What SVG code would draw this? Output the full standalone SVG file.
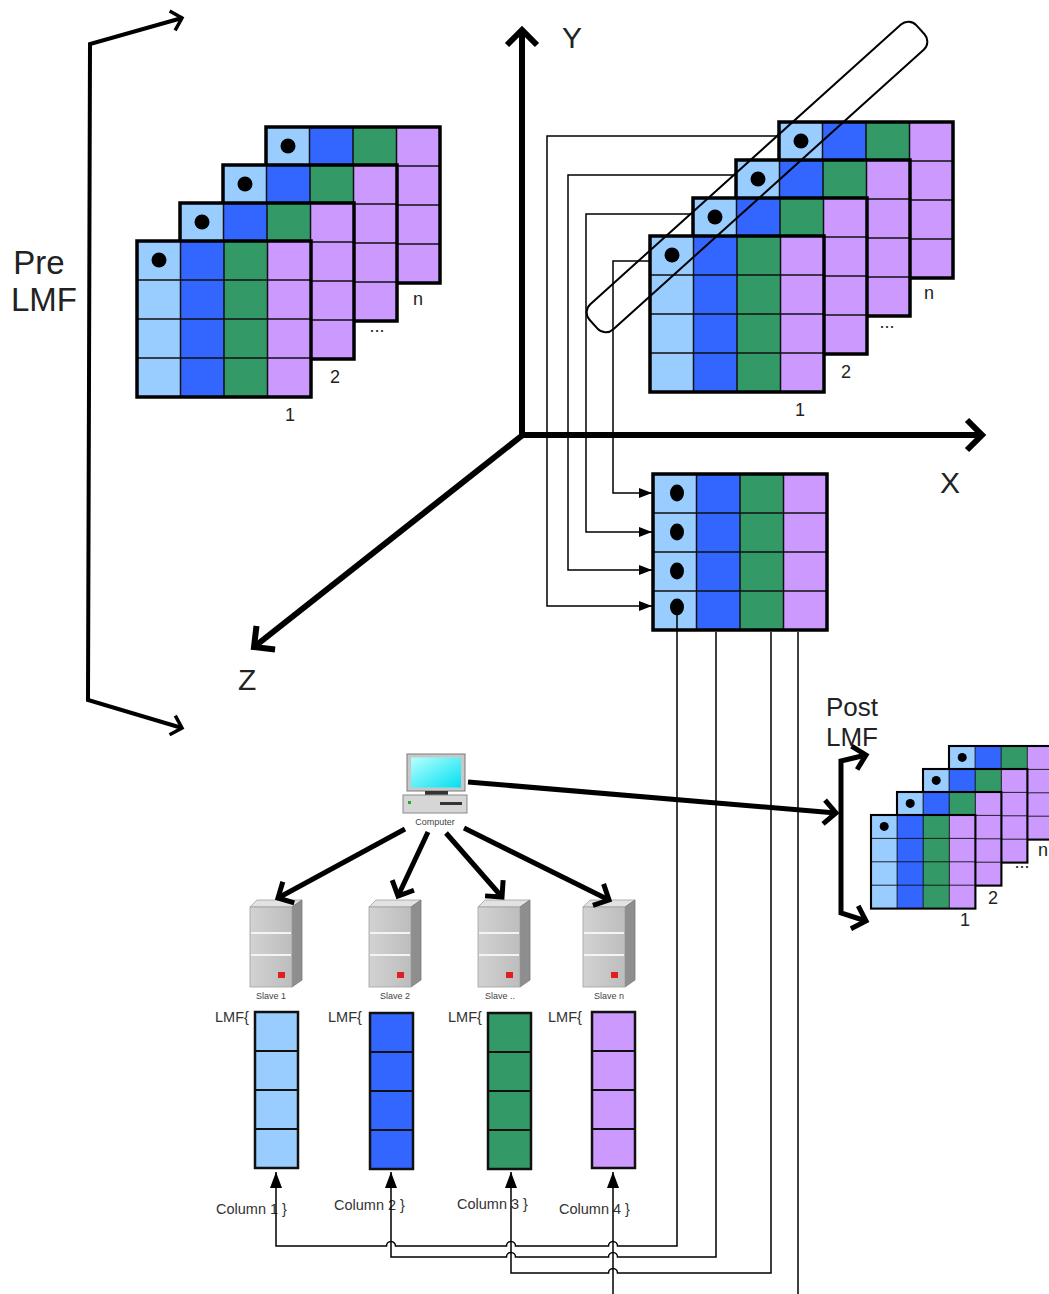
<svg xmlns="http://www.w3.org/2000/svg" xmlns:xlink="http://www.w3.org/1999/xlink" width="1049" height="1294" viewBox="0 0 1049 1294">
<style>
  text { font-family: "Liberation Sans", Arial, sans-serif; fill: #222; }
  .big { font-size: 33px; }
  .axis { font-size: 30px; }
  .post { font-size: 26px; }
  .num { font-size: 18px; text-anchor: middle; }
  .tiny { font-size: 9px; text-anchor: middle; fill: #444; }
  .lbl { font-size: 14.5px; fill: #333; }
  .thin { fill: none; stroke: #000; stroke-width: 1.5; }
  .thick6 { fill: none; stroke: #000; stroke-width: 6; }
  .thick5 { fill: none; stroke: #000; stroke-width: 5; }
  .thick4 { fill: none; stroke: #000; stroke-width: 4; }
  .c1 { fill: #99ccff; } .c2 { fill: #3366ff; } .c3 { fill: #339966; } .c4 { fill: #cc99ff; }
  .colbox { stroke: #111; stroke-width: 2.5; }
</style>
<defs>
  <marker id="chevA" markerUnits="userSpaceOnUse" viewBox="-22 -22 30 44" markerWidth="30" markerHeight="44" refX="0" refY="0" orient="auto">
    <path d="M-15,-15 L0,0 L-15,15" fill="none" stroke="#000" stroke-width="6"/>
  </marker>
  <marker id="chevB" markerUnits="userSpaceOnUse" viewBox="-18 -18 24 36" markerWidth="24" markerHeight="36" refX="0" refY="0" orient="auto">
    <path d="M-12,-12 L0,0 L-12,12" fill="none" stroke="#000" stroke-width="5"/>
  </marker>
  <marker id="chevC" markerUnits="userSpaceOnUse" viewBox="-18 -18 24 36" markerWidth="24" markerHeight="36" refX="0" refY="0" orient="auto">
    <path d="M-10,-10 L0,0 L-10,10" fill="none" stroke="#000" stroke-width="3.5"/>
  </marker>
  <marker id="triS" markerUnits="userSpaceOnUse" viewBox="0 0 13 10" markerWidth="13" markerHeight="10" refX="13" refY="5" orient="auto">
    <path d="M0,0 L13,5 L0,10 Z" fill="#000"/>
  </marker>
  <marker id="triL" markerUnits="userSpaceOnUse" viewBox="0 0 16 12" markerWidth="16" markerHeight="12" refX="16" refY="6" orient="auto">
    <path d="M0,0 L16,6 L0,12 Z" fill="#000"/>
  </marker>
  <linearGradient id="scr" x1="0" y1="0" x2="1" y2="1">
    <stop offset="0" stop-color="#b8ffff"/>
    <stop offset="1" stop-color="#00e0f0"/>
  </linearGradient>
  <linearGradient id="srvG" x1="0" y1="0" x2="1" y2="0">
    <stop offset="0" stop-color="#d2d2d2"/>
    <stop offset="1" stop-color="#bdbdbd"/>
  </linearGradient>
  <g id="mat">
    <rect x="0" y="0" width="43.5" height="156" class="c1"/>
    <rect x="43.5" y="0" width="43.5" height="156" class="c2"/>
    <rect x="87" y="0" width="43.5" height="156" class="c3"/>
    <rect x="130.5" y="0" width="43.5" height="156" class="c4"/>
    <path d="M43.5,0V156M87,0V156M130.5,0V156M0,39H174M0,78H174M0,117H174" stroke="#111" stroke-width="1.5" fill="none"/>
    <rect x="0" y="0" width="174" height="156" fill="none" stroke="#000" stroke-width="3.5"/>
  </g>
  <g id="mat1">
    <use href="#mat"/>
    <circle cx="22" cy="19" r="7.5" fill="#000"/>
  </g>
  <g id="server">
    <polygon points="0,7 7,0 52,0 42,7" fill="#e2e2e2" stroke="#a0a0a0" stroke-width="0.8"/>
    <polygon points="42,7 52,0 52,80 42,87" fill="#8e8e8e" stroke="#7a7a7a" stroke-width="0.8"/>
    <rect x="0" y="7" width="42" height="80" fill="url(#srvG)" stroke="#a0a0a0" stroke-width="0.8"/>
    <path d="M1,33 H41 M1,55 H41" stroke="#f4f4f4" stroke-width="1.8"/>
    <rect x="28" y="72" width="7" height="6" fill="#e02020"/>
  </g>
</defs>

<rect x="0" y="0" width="1049" height="1294" fill="#fff"/>

<!-- Pre LMF bracket and label -->
<g id="pre-lmf">
  <path class="thick4" d="M89,380 L90,44 L182,18" marker-end="url(#chevC)"/>
  <path class="thick4" d="M89,380 L88,700 L182,728" marker-end="url(#chevC)"/>
  <text class="big" x="39" y="274" text-anchor="middle">Pre</text>
  <text class="big" x="44" y="311" text-anchor="middle">LMF</text>
</g>

<!-- Axes -->
<g id="axes">
  <path class="thick6" d="M522,438 V30" marker-end="url(#chevA)"/>
  <path class="thick6" d="M519,435 H982" marker-end="url(#chevA)"/>
  <path class="thick6" d="M524,434 L254,647" marker-end="url(#chevA)"/>
  <text class="axis" x="562" y="48">Y</text>
  <text class="axis" x="940" y="493">X</text>
  <text class="axis" x="238" y="690">Z</text>
</g>

<!-- Pre LMF stack -->
<g id="pre-stack">
  <use href="#mat1" x="266" y="127"/>
  <use href="#mat1" x="223" y="165"/>
  <use href="#mat1" x="180" y="203"/>
  <use href="#mat1" x="137" y="241"/>
  <text class="num" x="290" y="421">1</text>
  <text class="num" x="335" y="383">2</text>
  <text class="num" x="377" y="332">...</text>
  <text class="num" x="418" y="305">n</text>
</g>

<!-- Top-right stack -->
<g id="xy-stack">
  <use href="#mat1" x="779" y="122"/>
  <use href="#mat1" x="736" y="160"/>
  <use href="#mat1" x="693" y="198"/>
  <use href="#mat1" x="650" y="236"/>
  <text class="num" x="800" y="416">1</text>
  <text class="num" x="846" y="378">2</text>
  <text class="num" x="887" y="328">...</text>
  <text class="num" x="929" y="299">n</text>
</g>

<!-- Selection highlight -->
<g id="selection">
  <rect x="-220" y="-17" width="440" height="34" rx="11" ry="11" fill="none" stroke="#000" stroke-width="2" transform="translate(757,177) rotate(-42)"/>
</g>

<!-- Middle matrix -->
<g id="mid-matrix">
  <use href="#mat" x="653" y="474"/>
  <ellipse cx="677" cy="493" rx="7" ry="8.5" fill="#000"/>
  <ellipse cx="677" cy="532" rx="7" ry="8.5" fill="#000"/>
  <ellipse cx="677" cy="571" rx="7" ry="8.5" fill="#000"/>
  <ellipse cx="677" cy="607" rx="7" ry="8.5" fill="#000"/>
</g>

<!-- Computer -->
<g id="computer">
  <rect x="407" y="754" width="58" height="37" fill="#c8c8c8" stroke="#7a7a7a" stroke-width="1"/>
  <rect x="411" y="757.5" width="50" height="30" fill="url(#scr)"/>
  <rect x="425" y="791" width="23" height="4" fill="#333"/>
  <rect x="403" y="795" width="64" height="18" fill="#d6d6d6" stroke="#8a8a8a" stroke-width="1"/>
  <rect x="440" y="802" width="22" height="3" fill="#333"/>
  <rect x="408" y="801" width="3" height="3" fill="#2a2"/>
  <text class="tiny" x="435" y="825">Computer</text>
</g>

<!-- Slaves -->
<g id="slave1">
  <use href="#server" x="250" y="900"/>
  <text class="tiny" x="271" y="999">Slave 1</text>
</g>
<g id="slave2">
  <use href="#server" x="369" y="900"/>
  <text class="tiny" x="395" y="999">Slave 2</text>
</g>
<g id="slave3">
  <use href="#server" x="478" y="900"/>
  <text class="tiny" x="500" y="999">Slave ..</text>
</g>
<g id="slave4">
  <use href="#server" x="583" y="900"/>
  <text class="tiny" x="609" y="999">Slave n</text>
</g>

<!-- LMF columns -->
<g id="col1">
  <text class="lbl" x="215" y="1022">LMF{</text>
  <rect class="c1 colbox" x="255" y="1012" width="43" height="156"/>
  <path d="M255,1051H298M255,1090H298M255,1129H298" stroke="#111" stroke-width="1.8"/>
  <text class="lbl" x="216" y="1214">Column 1 }</text>
</g>
<g id="col2">
  <text class="lbl" x="328" y="1022">LMF{</text>
  <rect class="c2 colbox" x="370" y="1013" width="43" height="156"/>
  <path d="M370,1052H413M370,1091H413M370,1130H413" stroke="#111" stroke-width="1.8"/>
  <text class="lbl" x="334" y="1210">Column 2 }</text>
</g>
<g id="col3">
  <text class="lbl" x="448" y="1022">LMF{</text>
  <rect class="c3 colbox" x="488" y="1013" width="43" height="156"/>
  <path d="M488,1052H531M488,1091H531M488,1130H531" stroke="#111" stroke-width="1.8"/>
  <text class="lbl" x="457" y="1209">Column 3 }</text>
</g>
<g id="col4">
  <text class="lbl" x="548" y="1022">LMF{</text>
  <rect class="c4 colbox" x="592" y="1012" width="43" height="156"/>
  <path d="M592,1051H635M592,1090H635M592,1129H635" stroke="#111" stroke-width="1.8"/>
  <text class="lbl" x="559" y="1214">Column 4 }</text>
</g>

<!-- Post LMF -->
<g id="post-lmf">
  <text class="post" x="826" y="716">Post</text>
  <text class="post" x="826" y="746">LMF</text>
  <path class="thick5" d="M841,835 L841,761 L866,755" marker-end="url(#chevB)"/>
  <path class="thick5" d="M841,835 L841,913 L866,921" marker-end="url(#chevB)"/>
</g>
<g id="post-stack">
  <use href="#mat1" transform="translate(949,746) scale(0.6)"/>
  <use href="#mat1" transform="translate(923,769) scale(0.6)"/>
  <use href="#mat1" transform="translate(897,792) scale(0.6)"/>
  <use href="#mat1" transform="translate(871,815) scale(0.6)"/>
  <text class="num" x="965" y="926">1</text>
  <text class="num" x="993" y="904">2</text>
  <text class="num" x="1022" y="868">...</text>
  <text class="num" x="1043" y="856">n</text>
</g>

<!-- Connectors -->
<g id="connectors">
  <!-- from XY stack to middle matrix -->
  <path class="thin" d="M779,136 H547 V606 H652" marker-end="url(#triS)"/>
  <path class="thin" d="M736,175 H568 V570 H652" marker-end="url(#triS)"/>
  <path class="thin" d="M693,214 H586 V532 H652" marker-end="url(#triS)"/>
  <path class="thin" d="M650,261 H613 V493 H652" marker-end="url(#triS)"/>
  <!-- from middle matrix to columns -->
  <path class="thin" d="M677,607 V1246 H617.5 A4.5,4.5 0 0 0 608.5,1246 H515.5 A4.5,4.5 0 0 0 506.5,1246 H395.5 A4.5,4.5 0 0 0 386.5,1246 H276 V1172" marker-end="url(#triL)"/>
  <path class="thin" d="M716,632 V1257 H617.5 A4.5,4.5 0 0 0 608.5,1257 H515.5 A4.5,4.5 0 0 0 506.5,1257 H391 V1172" marker-end="url(#triL)"/>
  <path class="thin" d="M771,632 V1273 H617.5 A4.5,4.5 0 0 0 608.5,1273 H511 V1172" marker-end="url(#triL)"/>
  <path class="thin" d="M798,632 V1294"/>
  <path class="thin" d="M613,1294 V1172" marker-end="url(#triL)"/>
  <!-- computer arrows -->
  <path class="thick5" d="M468,782 L836,813" marker-end="url(#chevB)"/>
  <path class="thick5" d="M405,829 L278,898" marker-end="url(#chevB)"/>
  <path class="thick5" d="M428,832 L398,896" marker-end="url(#chevB)"/>
  <path class="thick5" d="M446,833 L502,897" marker-end="url(#chevB)"/>
  <path class="thick5" d="M464,828 L609,900" marker-end="url(#chevB)"/>
</g>
</svg>
